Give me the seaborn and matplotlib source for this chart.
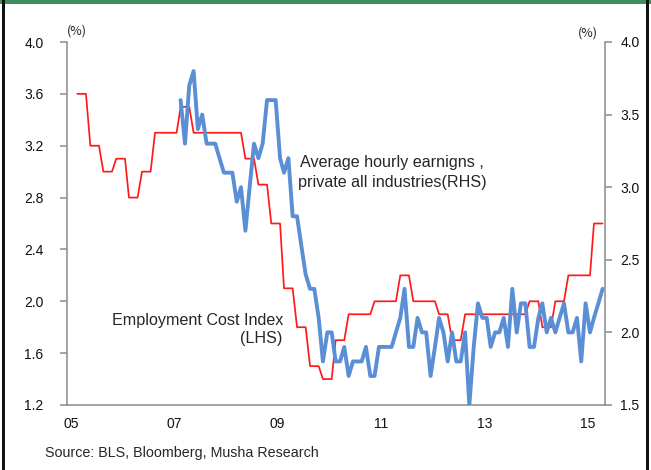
import numpy as np
import pandas as pd
import matplotlib
matplotlib.use("Agg")
import matplotlib.pyplot as plt
import matplotlib.transforms as mtransforms
from matplotlib.patches import Rectangle
import seaborn as sns

# Employment Cost Index, private wages & salaries, y/y % (quarterly, 2005Q1 - 2015Q1)
eci_quarterly = [3.6, 3.2, 3.0, 3.1, 2.8, 3.0, 3.3, 3.3, 3.5, 3.3,
                 3.3, 3.3, 3.3, 3.1, 2.9, 2.6, 2.1, 1.8, 1.5, 1.4,
                 1.7, 1.9, 1.9, 2.0, 2.0, 2.2, 2.0, 2.0, 1.9, 1.7,
                 1.9, 1.9, 1.9, 1.9, 1.9, 2.0, 1.8, 2.0, 2.2, 2.2,
                 2.6]
eci_first_month = "2005-03-01"

# Average hourly earnings, private all industries, y/y % (monthly, Mar 2007 - May 2015)
ahe_monthly = [3.6, 3.3, 3.7, 3.8, 3.4, 3.5, 3.3, 3.3, 3.3, 3.2,
               3.1, 3.1, 3.1, 2.9, 3.0, 2.7, 3.0, 3.3, 3.2, 3.3,
               3.6, 3.6, 3.6, 3.2, 3.1, 3.2, 2.8, 2.8, 2.6, 2.4,
               2.3, 2.3, 2.1, 1.8, 2.0, 2.0, 1.8, 1.8, 1.9, 1.7,
               1.8, 1.8, 1.8, 1.9, 1.7, 1.7, 1.9, 1.9, 1.9, 1.9,
               2.0, 2.1, 2.3, 1.9, 1.9, 2.1, 2.0, 2.0, 1.7, 1.9,
               2.1, 2.0, 1.8, 2.0, 1.8, 1.8, 2.0, 1.5, 1.9, 2.2,
               2.1, 2.1, 1.9, 2.0, 2.0, 2.1, 1.9, 2.3, 2.0, 2.2,
               2.2, 1.9, 1.9, 2.1, 2.2, 2.0, 2.1, 2.0, 2.1, 2.2,
               2.0, 2.0, 2.1, 1.8, 2.2, 2.0, 2.1, 2.2, 2.3]
ahe_first_month = "2007-03-01"

left_ticks = [1.2, 1.6, 2.0, 2.4, 2.8, 3.2, 3.6, 4.0]
right_ticks = [1.5, 2.0, 2.5, 3.0, 3.5, 4.0]
year_ticks = [2005, 2007, 2009, 2011, 2013, 2015]
year_labels = ["05", "07", "09", "11", "13", "15"]

# quarterly ECI held flat for the three months of each quarter, points at mid-month
eci_monthly = np.repeat(eci_quarterly, 3)
eci_dates = pd.date_range(eci_first_month, periods=len(eci_monthly), freq="MS") + pd.Timedelta(days=14)
ahe_dates = pd.date_range(ahe_first_month, periods=len(ahe_monthly), freq="MS") + pd.Timedelta(days=14)

eci_df = pd.DataFrame({"date": eci_dates, "value": eci_monthly})
ahe_df = pd.DataFrame({"date": ahe_dates, "value": ahe_monthly})

sns.set_style("white")
plt.rcParams["font.family"] = ["Liberation Sans", "DejaVu Sans"]

W, H = 651, 470
fig = plt.figure(figsize=(W / 100, H / 100), dpi=100)
fig.patch.set_facecolor("white")

def fx(x):
    return x / W

def fy(y):
    return 1 - y / H

x0, x1, y0, y1 = 67, 605, 42, 405
ax = fig.add_axes([fx(x0), fy(y1), (x1 - x0) / W, (y1 - y0) / H])
ax2 = ax.twinx()

red = "#FF1A1A"
blue = "#5A8FD6"
axis_grey = "#8C8C8C"

sns.lineplot(data=eci_df, x="date", y="value", ax=ax, color=red, linewidth=1.25)
sns.lineplot(data=ahe_df, x="date", y="value", ax=ax2, color=blue, linewidth=2.8)

ax.set_xlim(pd.Timestamp("2005-01-01"), pd.Timestamp("2015-06-01"))
ax.set_ylim(1.2, 4.0)
ax2.set_ylim(1.5, 4.0)
ax.set_yticks(left_ticks)
ax.set_yticklabels([f"{v:.1f}" for v in left_ticks])
ax2.set_yticks(right_ticks)
ax2.set_yticklabels([f"{v:.1f}" for v in right_ticks])
ax.set_xticks([pd.Timestamp(f"{y}-01-01") for y in year_ticks])
ax.set_xticklabels(year_labels)

for a in (ax, ax2):
    a.set_xlabel("")
    a.set_ylabel("")
    a.set_facecolor("none")
    for side, sp in a.spines.items():
        sp.set_color(axis_grey)
        sp.set_linewidth(1.1)
    a.spines["top"].set_visible(False)
ax.spines["right"].set_visible(False)
ax2.spines["left"].set_visible(False)
ax2.spines["bottom"].set_visible(False)

ax.tick_params(axis="y", direction="out", length=5, width=1.1, color=axis_grey,
               labelsize=10, pad=12, labelcolor="#111111")
ax.tick_params(axis="x", direction="out", length=5, width=1.1, color=axis_grey,
               labelsize=10, pad=4, labelcolor="#111111")
ax2.tick_params(axis="y", direction="out", length=5, width=1.1, color=axis_grey,
                labelsize=10, pad=6, labelcolor="#111111")

# year labels sit slightly right of their tick marks
shift = mtransforms.ScaledTranslation(4 / 100, 0, fig.dpi_scale_trans)
for lbl in ax.get_xticklabels():
    lbl.set_transform(lbl.get_transform() + shift)

# unit markers above each axis
fig.text(fx(77), fy(31), "(%)", fontsize=9, ha="center", va="center",
         family=["Noto Sans CJK JP", "DejaVu Sans"], color="#222222")
fig.text(fx(588), fy(33), "(%)", fontsize=9, ha="center", va="center",
         family=["Noto Sans CJK JP", "DejaVu Sans"], color="#222222")

# series labels
fig.text(fx(300), fy(163), "Average hourly earnigns ,", fontsize=11.6, ha="left", va="center")
fig.text(fx(298), fy(182), "private all industries(RHS)", fontsize=11.6, ha="left", va="center")
fig.text(fx(283), fy(321), "Employment Cost Index", fontsize=11.6, ha="right", va="center")
fig.text(fx(282), fy(339), "(LHS)", fontsize=11.6, ha="right", va="center")

fig.text(fx(45), fy(453), "Source: BLS, Bloomberg, Musha Research", fontsize=10.3,
         ha="left", va="center")

# window frame edges
fig.patches.append(Rectangle((0, fy(4)), 1, 4 / H, transform=fig.transFigure,
                             facecolor="#3E8E5E", edgecolor="none"))
fig.patches.append(Rectangle((fx(2), 0), 3 / W, 1, transform=fig.transFigure,
                             facecolor="#111111", edgecolor="none"))
fig.patches.append(Rectangle((fx(646), 0), 3 / W, 1, transform=fig.transFigure,
                             facecolor="#111111", edgecolor="none"))

fig.savefig("out.png", dpi=100)
